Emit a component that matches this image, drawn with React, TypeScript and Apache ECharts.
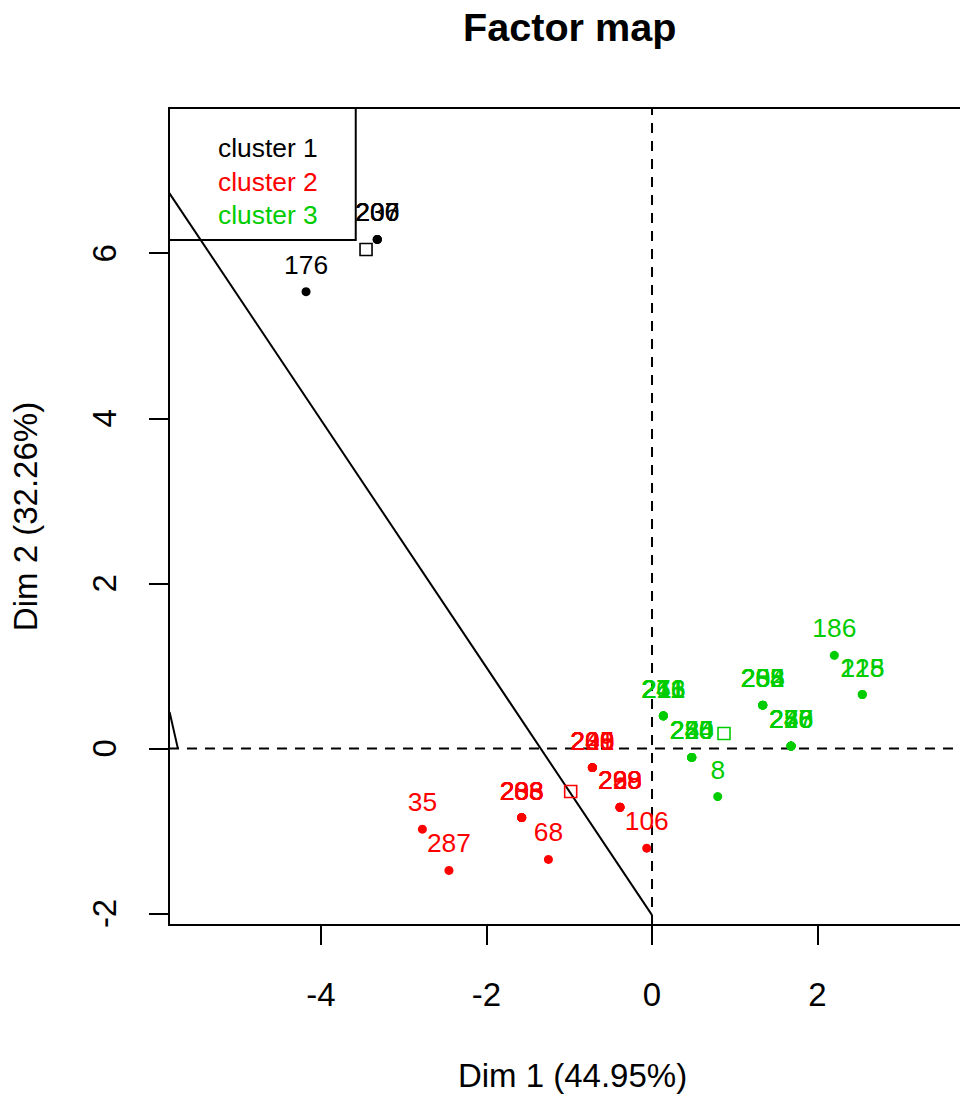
import React, { useEffect, useRef } from "react";
import * as echarts from "echarts";

const FONT = "'Liberation Sans', Arial, Helvetica, sans-serif";

const titleText = "Factor map";
const xName = "Dim 1 (44.95%)";
const yName = "Dim 2 (32.26%)";

const xTicks = [-4, -2, 0, 2];
const yTicks = [-2, 0, 2, 4, 6];
const xRange = [-5.837, 3.915];
const yRange = [-2.14, 7.76];

const clusterNames = ["cluster 1", "cluster 2", "cluster 3"];
const clusterColors = ["#000000", "#FF0000", "#00CD00"];

// cluster 1 individuals
const c1Labels = ["176", "207", "230", "206"];
const c1X = [-4.181, -3.32, -3.32, -3.32];
const c1Y = [5.534, 6.167, 6.167, 6.167];

// cluster 2 individuals
const c2Labels = [
  "35", "287", "68", "106",
  "203", "208", "233", "236", "283",
  "201", "209", "225", "238", "240",
  "228", "239", "269", "298",
];
const c2X = [
  -2.775, -2.454, -1.252, -0.064,
  -1.575, -1.575, -1.575, -1.575, -1.575,
  -0.721, -0.721, -0.721, -0.721, -0.721,
  -0.387, -0.387, -0.387, -0.387,
];
const c2Y = [
  -0.979, -1.479, -1.346, -1.209,
  -0.838, -0.838, -0.838, -0.838, -0.838,
  -0.233, -0.233, -0.233, -0.233, -0.233,
  -0.713, -0.713, -0.713, -0.713,
];

// cluster 3 individuals
const c3Labels = [
  "8", "186", "215", "128",
  "211", "216", "243", "266", "271",
  "220", "224", "245", "255", "280",
  "202", "205", "234", "258", "285",
  "226", "246", "250", "277", "288",
];
const c3X = [
  0.794, 2.203, 2.541, 2.541,
  0.137, 0.137, 0.137, 0.137, 0.137,
  0.48, 0.48, 0.48, 0.48, 0.48,
  1.338, 1.338, 1.338, 1.338, 1.338,
  1.68, 1.68, 1.68, 1.68, 1.68,
];
const c3Y = [
  -0.584, 1.128, 0.653, 0.653,
  0.395, 0.395, 0.395, 0.395, 0.395,
  -0.109, -0.109, -0.109, -0.109, -0.109,
  0.524, 0.524, 0.524, 0.524, 0.524,
  0.028, 0.028, 0.028, 0.028, 0.028,
];

// cluster centres
const centroidX = [-3.456, -0.983, 0.87];
const centroidY = [6.046, -0.523, 0.181];

// extra solid segments
const cutLineX = [-5.837, 0];
const cutLineY = [6.735, -2.02];
const stubX = [-5.83, -5.73];
const stubY = [0.44, 0.0];

const clusterLabels = [c1Labels, c2Labels, c3Labels];
const clusterXs = [c1X, c2X, c3X];
const clusterYs = [c1Y, c2Y, c3Y];

const CHART_W = 980;
const CHART_H = 1097;

export default function App() {
  const ref = useRef<HTMLDivElement>(null);

  useEffect(() => {
    if (!ref.current) return;
    const chart = echarts.init(ref.current, null, { renderer: "svg" });

    const clusterSeries = clusterNames.map((name, i) => {
      const color = clusterColors[i];
      const pts = clusterLabels[i].map((lab, j) => ({
        name: lab,
        value: [clusterXs[i][j], clusterYs[i][j]],
      }));
      const centre = {
        name: "centre " + (i + 1),
        value: [centroidX[i], centroidY[i]],
        symbol: "rect",
        symbolSize: 12,
        itemStyle: { color: "rgba(0,0,0,0)", borderColor: color, borderWidth: 1.6 },
        label: { show: false },
      };
      return {
        type: "scatter",
        name,
        symbol: "circle",
        symbolSize: 9,
        itemStyle: { color, opacity: 1 },
        silent: true,
        z: 3,
        label: {
          show: true,
          position: "inside",
          offset: [0, -27],
          formatter: "{b}",
          color,
          fontSize: 26.4,
          fontFamily: FONT,
        },
        data: [...pts, centre],
      };
    });

    const option = {
      animation: false,
      backgroundColor: "#ffffff",
      textStyle: { fontFamily: FONT },
      title: {
        text: titleText,
        left: 458,
        top: 2,
        textStyle: { fontSize: 39.6, fontWeight: "bold", color: "#000", fontFamily: FONT },
      },
      legend: {
        left: 169,
        top: 108,
        orient: "vertical",
        selectedMode: false,
        itemWidth: 0,
        itemHeight: 0,
        itemGap: 7.5,
        padding: [27, 38, 12, 44],
        borderColor: "#000",
        borderWidth: 2,
        textStyle: { fontSize: 26.4, fontFamily: FONT },
        data: clusterNames.map((n, i) => ({
          name: n,
          icon: "rect",
          textStyle: { color: clusterColors[i] },
        })),
      },
      grid: {
        show: true,
        left: 169,
        top: 108,
        right: CHART_W - 976,
        bottom: 170,
        borderColor: "#000",
        borderWidth: 2,
        backgroundColor: "rgba(0,0,0,0)",
      },
      xAxis: {
        type: "value",
        min: xRange[0],
        max: xRange[1],
        name: xName,
        nameLocation: "middle",
        nameGap: 134,
        nameTextStyle: { fontSize: 33, color: "#000", fontFamily: FONT },
        axisLine: { show: false, onZero: false },
        axisTick: {
          show: true,
          length: 20,
          customValues: xTicks,
          lineStyle: { color: "#000", width: 2 },
        },
        axisLabel: {
          customValues: xTicks,
          fontSize: 33,
          color: "#000",
          margin: 53,
          fontFamily: FONT,
        },
        splitLine: { show: false },
      },
      yAxis: {
        type: "value",
        min: yRange[0],
        max: yRange[1],
        name: yName,
        nameLocation: "middle",
        nameGap: 127,
        nameRotate: 90,
        nameTextStyle: { fontSize: 33, color: "#000", fontFamily: FONT },
        axisLine: { show: false, onZero: false },
        axisTick: {
          show: true,
          length: 20,
          customValues: yTicks,
          lineStyle: { color: "#000", width: 2 },
        },
        axisLabel: {
          customValues: yTicks,
          fontSize: 33,
          color: "#000",
          margin: 48,
          rotate: 90,
          fontFamily: FONT,
        },
        splitLine: { show: false },
      },
      series: [
        {
          type: "line",
          name: "vline",
          silent: true,
          symbol: "none",
          z: 1,
          lineStyle: { color: "#000", width: 2, type: [10, 8] },
          data: [[0, yRange[0]], [0, yRange[1]]],
        },
        {
          type: "line",
          name: "hline",
          silent: true,
          symbol: "none",
          z: 1,
          lineStyle: { color: "#000", width: 2, type: [10, 8] },
          data: [[xRange[0], 0], [xRange[1], 0]],
        },
        {
          type: "line",
          name: "cut",
          silent: true,
          symbol: "none",
          z: 2,
          lineStyle: { color: "#000", width: 2, type: "solid" },
          data: cutLineX.map((x, k) => [x, cutLineY[k]]),
        },
        {
          type: "line",
          name: "stub",
          silent: true,
          symbol: "none",
          z: 2,
          lineStyle: { color: "#000", width: 2, type: "solid" },
          data: stubX.map((x, k) => [x, stubY[k]]),
        },
        ...clusterSeries,
      ],
    };

    chart.setOption(option as any);
    return () => chart.dispose();
  }, []);

  return (
    <div
      style={{
        position: "absolute",
        left: 0,
        top: 0,
        width: 960,
        height: CHART_H,
        overflow: "hidden",
        background: "#fff",
      }}
    >
      <div ref={ref} style={{ width: CHART_W, height: CHART_H }} />
    </div>
  );
}
